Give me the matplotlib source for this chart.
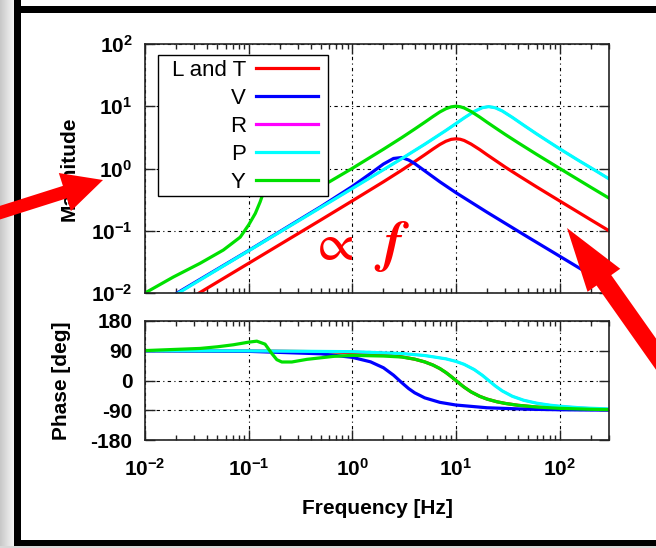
import matplotlib
matplotlib.use("Agg")
import matplotlib.pyplot as plt
import numpy as np
from matplotlib.patches import FancyArrow, Rectangle
from matplotlib.ticker import NullLocator, FixedLocator

# ---- data (Hz, magnitude, degrees) ----
# L and T
f_lt_mag = [0.0333, 0.1, 0.5, 1, 2, 3, 4, 5, 6, 7, 8, 9, 10, 11, 12, 14, 17, 20, 25, 30, 40, 60, 100, 200, 300]
mag_lt = [0.0100, 0.0300, 0.150, 0.302, 0.612, 0.939, 1.29, 1.66, 2.05, 2.43, 2.74, 2.94, 3.00, 2.95, 2.82,
          2.47, 2.01, 1.66, 1.29, 1.05, 0.773, 0.507, 0.302, 0.150, 0.100]
f_lt_ph = [0.01, 0.1, 0.5, 1, 2, 3, 4, 5, 6, 7, 8, 9, 10, 11, 12, 14, 17, 20, 25, 30, 40, 60, 100, 200, 300]
ph_lt = [89.9, 89.4, 87.1, 84.2, 78.2, 71.8, 64.5, 56.3, 46.8, 36.1, 24.2, 11.9, 0, -10.8, -20.1,
         -34.4, -48.0, -56.3, -64.5, -69.4, -75.1, -80.3, -84.2, -87.1, -88.1]

# V
f_v_mag = [0.0204, 0.1, 0.5, 1, 1.5, 2, 2.5, 3, 3.5, 4, 5, 7, 10, 20, 50, 100, 200, 300]
mag_v = [0.0100, 0.0481, 0.245, 0.515, 0.832, 1.18, 1.45, 1.50, 1.37, 1.20, 0.917, 0.611, 0.409,
         0.198, 0.0782, 0.0391, 0.0195, 0.0130]
f_v_ph = [0.01, 0.1, 0.5, 1, 1.5, 2, 2.5, 3, 3.5, 4, 5, 7, 10, 20, 50, 100, 200, 300]
ph_v = [89.8, 88.2, 80.7, 70.0, 56.5, 38.5, 16.1, -6.4, -24.5, -37.2, -52.5, -66.1, -74.2,
        -82.5, -87.0, -88.5, -89.3, -89.5]

# P (R lies underneath it)
f_p_mag = [0.021, 0.1, 1, 3, 5, 8, 10, 12, 15, 18, 20.7, 24, 28, 35, 45, 60, 80, 100, 150, 200, 300]
mag_p = [0.0100, 0.0476, 0.477, 1.44, 2.45, 4.08, 5.26, 6.49, 8.25, 9.49, 9.86, 9.45, 8.40, 6.63,
         4.97, 3.60, 2.64, 2.08, 1.37, 1.03, 0.682]
f_p_ph = [0.01, 0.1, 1, 3, 5, 8, 10, 12, 15, 18, 20.7, 24, 28, 35, 45, 60, 80, 100, 150, 200, 300]
ph_p = [90.0, 89.7, 87.2, 81.6, 75.6, 65.6, 57.8, 48.9, 33.2, 15.7, 0, -16.5, -31.5, -47.7,
        -59.7, -68.6, -74.5, -77.8, -82.0, -84.0, -86.0]
mag_r = list(mag_p)
ph_r = list(ph_p)

# Y
f_y_mag = [0.01, 0.0187, 0.034, 0.057, 0.083, 0.1, 0.116, 0.129, 0.138, 0.15, 0.17, 0.2, 0.25, 0.3,
           0.4, 0.5, 0.6, 1, 2, 3, 4, 5, 6, 7, 8, 9, 10, 11, 12, 14, 17, 20, 25, 30, 40, 60, 100, 200, 300]
mag_y = [0.0100, 0.018, 0.030, 0.049, 0.079, 0.124, 0.19, 0.29, 0.40, 0.60, 0.75, 0.65, 0.50, 0.46,
         0.48, 0.54, 0.61, 1.005, 2.04, 3.13, 4.30, 5.53, 6.83, 8.10, 9.12, 9.78, 10.0, 9.82, 9.39,
         8.24, 6.69, 5.53, 4.30, 3.51, 2.58, 1.69, 1.005, 0.500, 0.334]
f_y_ph = [0.01, 0.034, 0.05, 0.071, 0.1, 0.12, 0.144, 0.167, 0.187, 0.209, 0.261, 0.365, 0.66, 1, 2, 3,
          4, 5, 6, 7, 8, 9, 10, 11, 12, 14, 17, 20, 25, 30, 40, 60, 100, 200, 300]
ph_y = [90.5, 97, 102, 108, 116, 119, 110, 82, 63, 56, 56, 64, 73, 76, 74, 71, 64.5, 56.3, 46.8,
        36.1, 24.2, 11.9, 0, -10.8, -20.1, -34.4, -48.0, -56.3, -64.5, -69.4, -75.1, -80.3,
        -84.2, -87.1, -88.1]

phase_ticks = [-180, -90, 0, 90, 180]
phase_labels = ["-180", "-90", "0", "90", "180"]

plt.rcParams.update({
    "font.family": ["Liberation Sans", "DejaVu Sans"],
    "font.weight": "bold",
    "axes.labelweight": "bold",
    "font.size": 15,
    "mathtext.default": "regular",
    "axes.unicode_minus": False,
})

W, H = 656, 548
fig = plt.figure(figsize=(W / 100, H / 100), dpi=100)


def box(l, t, r, b):
    return [l / W, 1 - b / H, (r - l) / W, (b - t) / H]


ax1 = fig.add_axes(box(145, 44, 609, 293))
ax2 = fig.add_axes(box(145, 321, 609, 440))

lw = 2.3
grid_ls = (0, (3, 3, 1, 3))
ax1.plot(f_lt_mag, mag_lt, color="#ff0000", lw=lw, label="L and T")
ax1.plot(f_v_mag, mag_v, color="#0000ff", lw=lw, label="V")
ax1.plot(f_p_mag, mag_r, color="#ff00ff", lw=lw - 0.6, label="R")
ax1.plot(f_p_mag, mag_p, color="#00ffff", lw=lw, label="P")
ax1.plot(f_y_mag, mag_y, color="#00e000", lw=lw, label="Y")

ax2.plot(f_lt_ph, ph_lt, color="#ff0000", lw=lw)
ax2.plot(f_v_ph, ph_v, color="#0000ff", lw=lw)
ax2.plot(f_p_ph, ph_r, color="#ff00ff", lw=lw - 0.6)
ax2.plot(f_p_ph, ph_p, color="#00ffff", lw=lw)
ax2.plot(f_y_ph, ph_y, color="#00e000", lw=lw)

for ax in (ax1, ax2):
    ax.set_xscale("log")
    ax.set_xlim(0.01, 300)
    ax.set_axisbelow(True)
    ax.grid(True, which="major", color="k", lw=0.8, linestyle=grid_ls)
    ax.tick_params(which="both", direction="in", top=True, right=True, color="#222222", width=1)
    ax.tick_params(which="major", length=7, pad=9)
    ax.tick_params(which="minor", length=3.5)
    for s in ax.spines.values():
        s.set_linewidth(1.2)
        s.set_color("#222222")

ax1.set_yscale("log")
ax1.set_ylim(0.01, 100)
ax1.yaxis.set_minor_locator(NullLocator())
ax1.tick_params(labelbottom=False)
ax1.set_ylabel("Magnitude")
ax1.yaxis.set_label_coords((79 - 145) / 464, 0.5)

ax2.set_ylim(-180, 180)
ax2.yaxis.set_major_locator(FixedLocator(phase_ticks))
ax2.set_yticklabels(phase_labels)
ax2.tick_params(axis="x", which="major", pad=13)
ax2.set_ylabel("Phase [deg]")
ax2.yaxis.set_label_coords((71 - 145) / 464, 0.5)
ax2.set_xlabel("Frequency [Hz]")
ax2.xaxis.set_label_coords(0.5, (440 - 499) / 119)

# key: white box drawn separately, entries placed inside it
ax1.add_patch(Rectangle((158 / W, 1 - 196 / H), 170 / W, 141 / H, transform=fig.transFigure,
                        facecolor="white", edgecolor="k", lw=1.0, zorder=4.5, clip_on=False))
leg = ax1.legend(loc="center right", bbox_to_anchor=(318 / W, 1 - 126.5 / H), bbox_transform=fig.transFigure,
                 borderaxespad=0, borderpad=0, markerfirst=False, frameon=False,
                 prop={"weight": "normal", "size": 16}, handlelength=2.8, handletextpad=0.45,
                 labelspacing=0.31)
leg.set_zorder(5)
for h in leg.get_lines():
    h.set_linewidth(lw)

# ---- page frame, arrows and the red note ----
deco = fig.add_axes([0, 0, 1, 1], zorder=10)
deco.patch.set_alpha(0)
deco.axis("off")
grad = np.linspace(0.78, 0.96, 50)[None, :]
deco.imshow(grad, extent=(0, 14, H, 0), cmap="gray", vmin=0, vmax=1, aspect="auto")
deco.add_patch(Rectangle((14, 0), 7, H, color="k", lw=0))
deco.add_patch(Rectangle((14, 6), W - 14, 7, color="k", lw=0))
deco.add_patch(Rectangle((14, 540), W - 14, 6, color="k", lw=0))
deco.add_patch(Rectangle((0, 546), W, 2, color="#d8d8d8", lw=0))

deco.add_patch(FancyArrow(-20, 219, 123, -39, width=13, head_width=40, head_length=40,
                          length_includes_head=True, color="#ff0000", lw=0))
deco.add_patch(FancyArrow(694, 408, -127, -180, width=18, head_width=40, head_length=64,
                          length_includes_head=True, color="#ff0000", lw=0))

deco.text(318, 260, "\u221d", color="#ff0000", fontsize=38, family="STIXGeneral", fontweight="normal",
          va="baseline")
deco.text(383, 260, "f", color="#ff0000", fontsize=40, family="STIXGeneral", fontweight="bold",
          fontstyle="italic", va="baseline")

deco.set_xlim(0, W)
deco.set_ylim(H, 0)

fig.savefig("out.png", dpi=100)
